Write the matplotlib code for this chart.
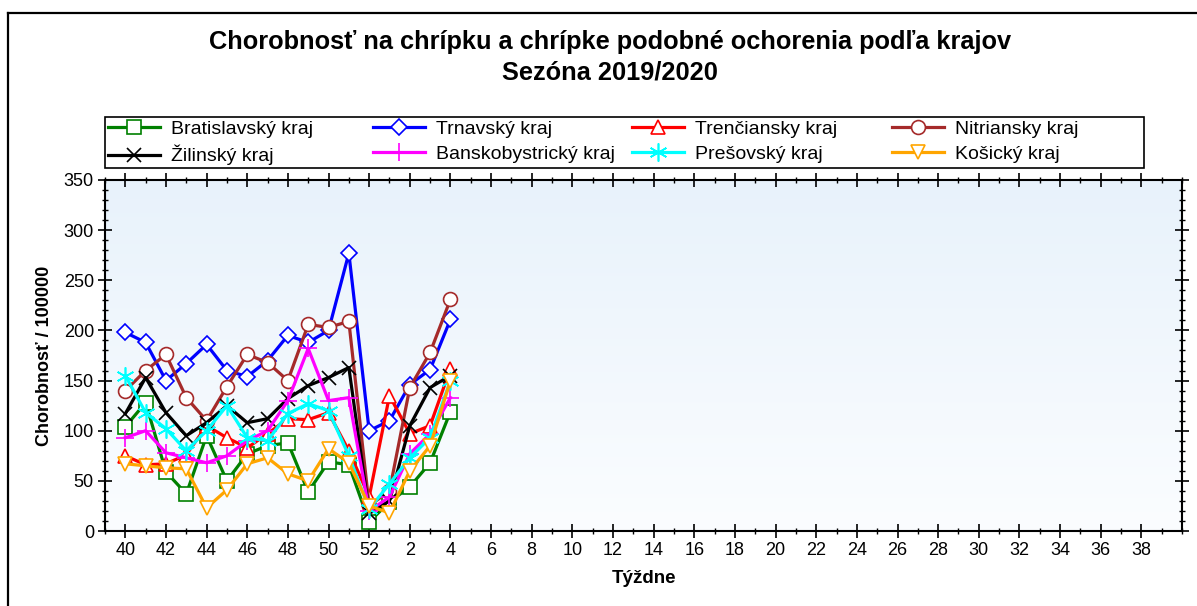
import numpy as np
import matplotlib
matplotlib.use("Agg")
import matplotlib.pyplot as plt
from matplotlib.lines import Line2D
from matplotlib.patches import Rectangle
from matplotlib.ticker import MultipleLocator, FixedLocator
from matplotlib.colors import LinearSegmentedColormap

plt.rcParams['font.family'] = ['Liberation Sans', 'DejaVu Sans']

# Weeks of the season (40..52, 1..39)
weeks = list(range(40, 53)) + list(range(1, 40))

regions = ["Bratislavský kraj", "Trnavský kraj", "Trenčiansky kraj", "Nitriansky kraj",
           "Žilinský kraj", "Banskobystrický kraj", "Prešovský kraj", "Košický kraj"]

bratislavsky = [104, 128, 59, 37, 95, 50, 77, 85, 88, 39, 69, 66, 9, 29, 44, 68, 119]
trnavsky = [198, 188, 150, 167, 186, 160, 154, 170, 195, 188, 200, 277, 100, 110, 146, 161, 211]
trenciansky = [75, 66, 67, 76, 105, 93, 83, 97, 112, 111, 118, 80, 34, 135, 97, 105, 162]
nitriansky = [140, 160, 176, 133, 110, 144, 176, 168, 150, 206, 203, 209, 25, 40, 143, 178, 231]
zilinsky = [117, 153, 118, 95, 108, 125, 108, 112, 132, 145, 153, 163, 18, 30, 105, 143, 155]
banskobystricky = [93, 100, 78, 73, 68, 75, 90, 100, 130, 182, 130, 133, 20, 34, 77, 97, 133]
presovsky = [155, 118, 102, 80, 100, 125, 93, 90, 117, 127, 120, 75, 22, 47, 73, 93, 150]
kosicky = [67, 65, 63, 62, 23, 41, 67, 73, 57, 50, 82, 68, 25, 18, 60, 85, 150]

series = [bratislavsky, trnavsky, trenciansky, nitriansky,
          zilinsky, banskobystricky, presovsky, kosicky]
colors = ["#008000", "#0000FF", "#FF0000", "#A52A2A",
          "#000000", "#FF00FF", "#00FFFF", "#FFA500"]
markers = ["s", "D", "^", "o", "x", "+", (6, 2, 0), "v"]
msizes = [10, 8, 10, 10, 10, 13, 13, 10]

W, H = 1197, 606
fig = plt.figure(figsize=(W / 100, H / 100), dpi=100)
fig.patch.set_facecolor("white")

# outer frame
fig.add_artist(Line2D([8 / W, 8 / W], [0, 1 - 13 / H], transform=fig.transFigure,
                      color="black", lw=1.6))
fig.add_artist(Line2D([8 / W, 1], [1 - 13 / H, 1 - 13 / H], transform=fig.transFigure,
                      color="black", lw=1.6))

L, R, T, B = 105, 1182, 180, 531
ax = fig.add_axes([L / W, 1 - B / H, (R - L) / W, (B - T) / H])

# gradient background
grad = np.linspace(0, 1, 256).reshape(-1, 1)
cmap = LinearSegmentedColormap.from_list("bg", ["#FBFDFF", "#E8F2FB"])
ax.imshow(grad, aspect="auto", cmap=cmap, origin="lower",
          extent=[-1, 52, 0, 350], zorder=0)

for vals, c, m, ms, lab in zip(series, colors, markers, msizes, regions):
    x = np.arange(len(vals))
    filled = m in ("x", "+", (6, 2, 0))
    ax.plot(x, vals, color=c, lw=2.3, marker=m, markersize=ms,
            markerfacecolor=(c if filled else "white"), markeredgecolor=c,
            markeredgewidth=1.2, label=lab, zorder=3)

ax.set_xlim(-1, 52)
ax.set_ylim(0, 350)

major_idx = [i for i in range(len(weeks)) if weeks[i] % 2 == 0 and i <= 50]
ax.xaxis.set_major_locator(FixedLocator(major_idx))
ax.set_xticklabels([str(weeks[i]) for i in major_idx])
ax.xaxis.set_minor_locator(MultipleLocator(1))
ax.yaxis.set_major_locator(MultipleLocator(50))
ax.yaxis.set_minor_locator(MultipleLocator(10))

ax.tick_params(axis="both", which="major", direction="inout", length=10, width=1.2,
               labelsize=13, top=True, right=True)
ax.tick_params(axis="both", which="minor", direction="inout", length=5, width=1.0,
               top=True, right=True)
ax.tick_params(axis="x", which="major", pad=3)
ax.tick_params(axis="y", which="major", pad=3)
for s in ax.spines.values():
    s.set_linewidth(1.5)

ax.set_xlabel("Týždne", fontsize=13.5, fontweight="bold", labelpad=8)
ax.set_ylabel("Chorobnosť / 100000", fontsize=13, fontweight="bold", labelpad=8)

fig.text(610 / W, 1 - 42 / H, "Chorobnosť na chrípku a chrípke podobné ochorenia podľa krajov",
         ha="center", va="center", fontsize=18.3, fontweight="bold")
fig.text(610 / W, 1 - 72 / H, "Sezóna 2019/2020",
         ha="center", va="center", fontsize=18.3, fontweight="bold")

# legend: four columns of two entries, inside one black frame
handles, labels = ax.get_legend_handles_labels()
col_x = [106, 371, 630, 890]
for j in range(4):
    idx = [j, j + 4]
    lg = fig.legend([handles[i] for i in idx], [labels[i] for i in idx],
                    loc="upper left", bbox_to_anchor=(col_x[j] / W, 1 - 118 / H),
                    frameon=False, fontsize=14, handlelength=2.7, handletextpad=0.55,
                    borderpad=0.1, borderaxespad=0, labelspacing=0.38)
fig.add_artist(Rectangle((105 / W, 1 - 168 / H), (1144 - 105) / W, 51 / H,
                         transform=fig.transFigure, fill=False, edgecolor="black",
                         lw=1.2))

fig.savefig("out.png", dpi=100)
